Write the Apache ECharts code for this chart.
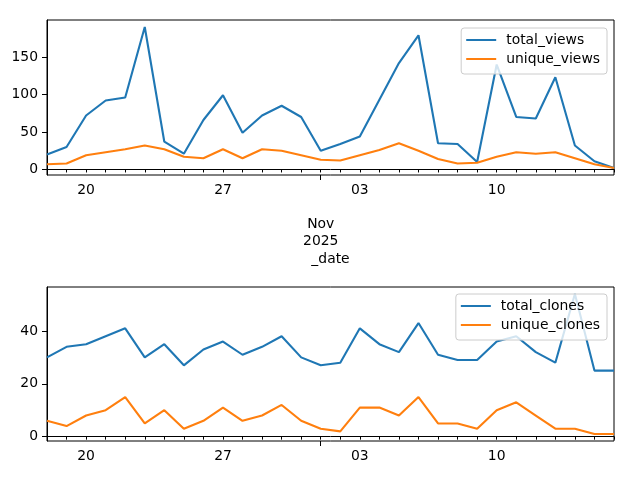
<!DOCTYPE html>
<html>
<head>
<meta charset="utf-8">
<script src="https://cdn.jsdelivr.net/npm/echarts@6/dist/echarts.min.js"></script>
<style>
  html, body { margin: 0; padding: 0; background: #fff; }
  #main { width: 640px; height: 480px; }
</style>
</head>
<body>
<div id="main"></div>
<script>
// daily dates, Oct 18 - Nov 16 2025
var dates = ['2025-10-18', '2025-10-19', '2025-10-20', '2025-10-21', '2025-10-22', '2025-10-23',
  '2025-10-24', '2025-10-25', '2025-10-26', '2025-10-27', '2025-10-28', '2025-10-29', '2025-10-30',
  '2025-10-31', '2025-11-01', '2025-11-02', '2025-11-03', '2025-11-04', '2025-11-05', '2025-11-06',
  '2025-11-07', '2025-11-08', '2025-11-09', '2025-11-10', '2025-11-11', '2025-11-12', '2025-11-13',
  '2025-11-14', '2025-11-15', '2025-11-16'];

var totalViews = [20, 30, 72, 92, 96, 190, 37, 21, 66, 99, 49, 72, 85, 70, 25,
  34, 44, 93, 142, 179, 35, 34, 10, 140, 70, 68, 123, 32, 11, 2];
var uniqueViews = [7, 8, 19, 23, 27, 32, 27, 17, 15, 27, 15, 27, 25, 19, 13,
  12, 19, 26, 35, 25, 14, 8, 9, 17, 23, 21, 23, 15, 7, 2];
var totalClones = [30, 34, 35, 38, 41, 30, 35, 27, 33, 36, 31, 34, 38, 30, 27,
  28, 41, 35, 32, 43, 31, 29, 29, 36, 38, 32, 28, 54, 25, 25];
var uniqueClones = [6, 4, 8, 10, 15, 5, 10, 3, 6, 11, 6, 8, 12, 6, 3,
  2, 11, 11, 8, 15, 5, 5, 3, 10, 13, 8, 3, 3, 1, 1];

var viewTicks = [0, 50, 100, 150];
var cloneTicks = [0, 20, 40];
var labelIdx = [2, 9, 14, 16, 23];   // mondays + month start
var monthIdx = 14;

var BLUE = '#1f77b4', ORANGE = '#ff7f0e';
var FS = 13.9;

// matplotlib style 5% margins
function range(a, b) {
  var all = a.concat(b);
  var lo = Math.min.apply(null, all), hi = Math.max.apply(null, all);
  var pad = (hi - lo) * 0.05;
  return [lo - pad, hi + pad];
}
var rv = range(totalViews, uniqueViews);
var rc = range(totalClones, uniqueClones);

function dayAxis(grid) {
  return {
    type: 'category', gridIndex: grid, data: dates, boundaryGap: false, position: 'bottom',
    name: '_date', nameLocation: 'middle', nameGap: 77,
    nameTextStyle: {color: '#000', fontSize: FS, fontFamily: 'DejaVu Sans'},
    axisLine: {show: true, lineStyle: {color: '#000', width: 1}},
    axisTick: {show: true, length: 3, interval: 0, lineStyle: {color: '#000', width: 1}},
    axisLabel: {
      color: '#000', fontSize: FS, fontFamily: 'DejaVu Sans', lineHeight: 17, margin: 7,
      interval: function (i) { return labelIdx.indexOf(i) >= 0; },
      formatter: function (v, i) {
        if (i === monthIdx) return '\n\nNov\n2025';
        return v.slice(8);
      }
    },
    splitLine: {show: false}
  };
}
// long tick at the month start
function majorTickAxis(grid) {
  return {
    type: 'category', gridIndex: grid, data: dates, boundaryGap: false, position: 'bottom',
    axisLine: {show: false},
    axisTick: {show: true, length: 5, lineStyle: {color: '#000', width: 1},
      interval: function (i) { return i === monthIdx; }},
    axisLabel: {show: false},
    splitLine: {show: false}
  };
}
function valAxis(grid, r, ticks) {
  return {
    type: 'value', gridIndex: grid, min: r[0], max: r[1],
    axisLine: {show: true, lineStyle: {color: '#000', width: 1}},
    axisTick: {show: true, length: 5, customValues: ticks, lineStyle: {color: '#000', width: 1}},
    axisLabel: {color: '#000', fontSize: FS, fontFamily: 'DejaVu Sans', margin: 9, customValues: ticks},
    splitLine: {show: false}
  };
}
function legendBox(top, names) {
  return {
    data: names, orient: 'vertical', right: 33, top: top,
    icon: 'rect', itemWidth: 30, itemHeight: 2, itemGap: 5,
    padding: [5, 7, 8, 5],
    backgroundColor: 'rgba(255,255,255,0.8)', borderColor: '#cccccc', borderWidth: 1, borderRadius: 3,
    textStyle: {color: '#000', fontSize: FS, fontFamily: 'DejaVu Sans', padding: [0, 0, 0, 5]}
  };
}
function line(name, data, color, xi, yi) {
  return {
    name: name, type: 'line', data: data, xAxisIndex: xi, yAxisIndex: yi,
    symbol: 'none', color: color,
    lineStyle: {color: color, width: 2.1}
  };
}

var chart = echarts.init(document.getElementById('main'), null, {renderer: 'canvas'});
chart.setOption({
  animation: false,
  backgroundColor: '#fff',
  grid: [
    {left: 47, top: 20, width: 567, height: 155, show: true, borderColor: '#000', borderWidth: 1,
      outerBoundsMode: 'none', containLabel: false},
    {left: 47, top: 287, width: 567, height: 154, show: true, borderColor: '#000', borderWidth: 1,
      outerBoundsMode: 'none', containLabel: false}
  ],
  legend: [
    legendBox(28, ['total_views', 'unique_views']),
    legendBox(294, ['total_clones', 'unique_clones'])
  ],
  xAxis: [dayAxis(0), majorTickAxis(0), dayAxis(1), majorTickAxis(1)],
  yAxis: [valAxis(0, rv, viewTicks), valAxis(1, rc, cloneTicks)],
  series: [
    line('total_views', totalViews, BLUE, 0, 0),
    line('unique_views', uniqueViews, ORANGE, 0, 0),
    line('total_clones', totalClones, BLUE, 2, 1),
    line('unique_clones', uniqueClones, ORANGE, 2, 1)
  ]
});
</script>
</body>
</html>
